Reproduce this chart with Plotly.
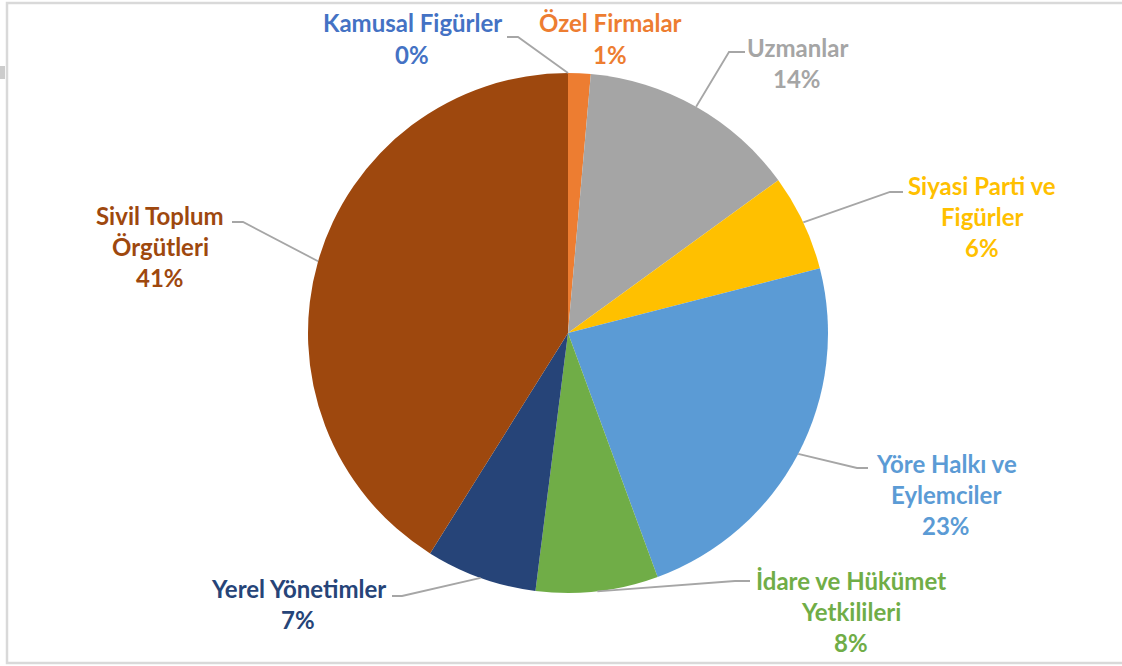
import math
import plotly.graph_objects as go

# ---- data ----
categories = ["Kamusal Figürler", "Özel Firmalar", "Uzmanlar", "Siyasi Parti ve Figürler",
              "Yöre Halkı ve Eylemciler", "İdare ve Hükümet Yetkilileri", "Yerel Yönetimler",
              "Sivil Toplum Örgütleri"]
label_lines = [["Kamusal Figürler"], ["Özel Firmalar"], ["Uzmanlar"], ["Siyasi Parti ve", "Figürler"],
               ["Yöre Halkı ve", "Eylemciler"], ["İdare ve Hükümet", "Yetkilileri"], ["Yerel Yönetimler"],
               ["Sivil Toplum", "Örgütleri"]]
values = [0.0, 1.4, 13.6, 6.0, 23.4, 7.6, 6.9, 41.1]
colors = ["#4472C4", "#ED7D31", "#A5A5A5", "#FFC000", "#5B9BD5", "#70AD47", "#264478", "#9E480E"]

# ---- layout / style (pixels) ----
W, H = 1122, 666
CX, CY, R = 568, 333, 260
# label block centre x and first-line y
label_pos = [(412, 23), (610, 23), (797, 47), (982, 185), (946, 463), (851, 580), (298, 588), (160, 215)]
# leader line start and elbow (None -> no leader line)
leader = [((507, 37), (518, 37)), None, ((745, 52), (729, 52)), ((903, 192), (890, 192)),
          ((868, 468), (857, 468)), ((750, 581), (735, 581)), ((392, 596), (402, 596)),
          ((232, 222), (243, 222))]
LINE_H = 31
FONT = "Lato"
FS = 24

def px(x):
    return x / W

def py(y):
    return 1 - y / H

fig = go.Figure()
fig.add_trace(go.Pie(
    labels=categories, values=values, sort=False, direction="clockwise", rotation=0,
    marker=dict(colors=colors, line=dict(color="white", width=0)),
    textinfo="none", hoverinfo="label+percent", showlegend=False,
    domain=dict(x=[px(CX - R), px(CX + R)], y=[py(CY + R), py(CY - R)]),
))

total = sum(values)
shapes = []
annotations = []
cum = 0.0
for i, v in enumerate(values):
    mid = (cum + v / 2) / total * 2 * math.pi
    cum += v
    tx = CX + R * math.sin(mid)
    ty = CY - R * math.cos(mid)
    if leader[i] is not None:
        (sx, sy), (ex, ey) = leader[i]
        path = f"M {px(sx)} {py(sy)} L {px(ex)} {py(ey)} L {px(tx)} {py(ty)}"
        shapes.append(dict(type="path", path=path, xref="paper", yref="paper",
                           line=dict(color="#A6A6A6", width=1.8)))
    pct = f"{round(v / total * 100)}%"
    lines = label_lines[i] + [pct]
    lx, ly = label_pos[i]
    for j, t in enumerate(lines):
        annotations.append(dict(x=px(lx), y=py(ly + j * LINE_H), xref="paper", yref="paper",
                                text=f"<b>{t}</b>", showarrow=False, xanchor="center", yanchor="middle",
                                font=dict(family=FONT, size=FS, color=colors[i])))

# chart border and small artifact
shapes.append(dict(type="rect", xref="paper", yref="paper", x0=px(7), x1=1.01, y0=py(663), y1=py(3),
                   line=dict(color="#D9D9D9", width=2.5), fillcolor="rgba(0,0,0,0)", layer="below"))
shapes.append(dict(type="rect", xref="paper", yref="paper", x0=0, x1=px(5), y0=py(79), y1=py(66),
                   line=dict(width=0), fillcolor="#CCCCCC"))

fig.update_layout(width=W, height=H, margin=dict(l=0, r=0, t=0, b=0),
                  paper_bgcolor="white", plot_bgcolor="white",
                  shapes=shapes, annotations=annotations)

fig.write_html("out.html", config={"displayModeBar": False},
               post_script="document.body.style.margin='0';document.body.style.overflow='hidden';")
